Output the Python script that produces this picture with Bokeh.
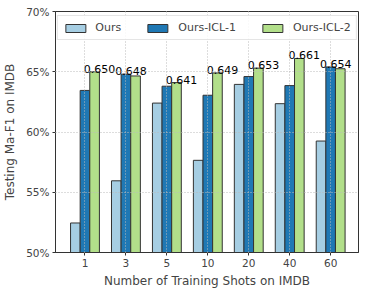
from bokeh.plotting import figure
from bokeh.models import ColumnDataSource, Range1d, FixedTicker, Legend, LegendItem
from bokeh.core.properties import value
from bokeh.embed import file_html
from bokeh.resources import INLINE

shots = ["1", "3", "5", "10", "20", "40", "60"]
ours = [52.45, 55.95, 62.4, 57.65, 63.95, 62.35, 59.25]
ours_icl1 = [63.45, 64.8, 63.8, 63.05, 64.6, 63.85, 65.4]
ours_icl2 = [65.0, 64.65, 64.1, 64.9, 65.3, 66.1, 65.25]
y_ticks = [50, 55, 60, 65, 70]

FONT = "DejaVu Sans"
idx = list(range(len(shots)))
w = 0.235

p = figure(width=362, height=290, output_backend="svg", toolbar_location=None,
           x_range=Range1d(-0.72, 6.68), y_range=Range1d(50, 70),
           min_border_left=53, min_border_top=11, min_border_right=4, min_border_bottom=38)

series = [(ours, -w, "#a6cee3", "Ours"),
          (ours_icl1, 0, "#1f78b4", "Ours-ICL-1"),
          (ours_icl2, w, "#b2df8a", "Ours-ICL-2")]
items = []
for vals, off, col, name in series:
    src = ColumnDataSource(dict(x=[i + off for i in idx], top=vals))
    r = p.vbar(x="x", top="top", bottom=50, width=w, source=src,
               fill_color=col, line_color="#333333", line_width=1)
    items.append(LegendItem(label=name, renderers=[r]))

lx, ly, lt = [], [], []
for i in idx:
    cand = [(ours[i], -w), (ours_icl1[i], 0), (ours_icl2[i], w)]
    v, off = max(cand)
    lx.append(i + off)
    ly.append(v)
    lt.append(f"{v/100:.3f}")
p.text(x=lx, y=ly, text=lt, text_align="center", text_baseline="bottom",
       x_offset=5, y_offset=1, text_font_size="11px", text_font=value(FONT), text_color="#000000")

legend = Legend(items=items, orientation="horizontal", location="top_center",
                label_text_font=FONT, label_text_font_size="11px",
                glyph_width=25, glyph_height=10, spacing=24, padding=5, margin=4,
                border_line_color="#cccccc", background_fill_alpha=0.85,
                label_standoff=8)
p.add_layout(legend)

p.xaxis.ticker = FixedTicker(ticks=idx)
p.xaxis.major_label_overrides = {i: s for i, s in enumerate(shots)}
p.yaxis.ticker = FixedTicker(ticks=y_ticks)
p.yaxis.major_label_overrides = {t: f"{t}%" for t in y_ticks}
p.xaxis.axis_label = "Number of Training Shots on IMDB"
p.yaxis.axis_label = "Testing Ma-F1 on IMDB"
for ax in (p.xaxis[0], p.yaxis[0]):
    ax.axis_label_text_font = FONT
    ax.axis_label_text_font_size = "12px"
    ax.axis_label_text_font_style = "normal"
    ax.major_label_text_font = FONT
    ax.major_label_text_font_size = "10.5px"
    ax.minor_tick_line_color = None
    ax.major_tick_out = 3
    ax.major_tick_in = 0
    ax.axis_line_color = "#333333"
    ax.major_tick_line_color = "#333333"
    ax.axis_label_standoff = 4
    ax.major_label_standoff = 3
p.yaxis.axis_label_standoff = 6

p.grid.grid_line_color = "#bbbbbb"
p.grid.grid_line_dash = "1 2"
p.grid.level = "overlay"
p.outline_line_color = "#333333"
p.outline_line_width = 1
p.background_fill_color = "white"

open("out.html", "w").write(file_html(p, INLINE))
